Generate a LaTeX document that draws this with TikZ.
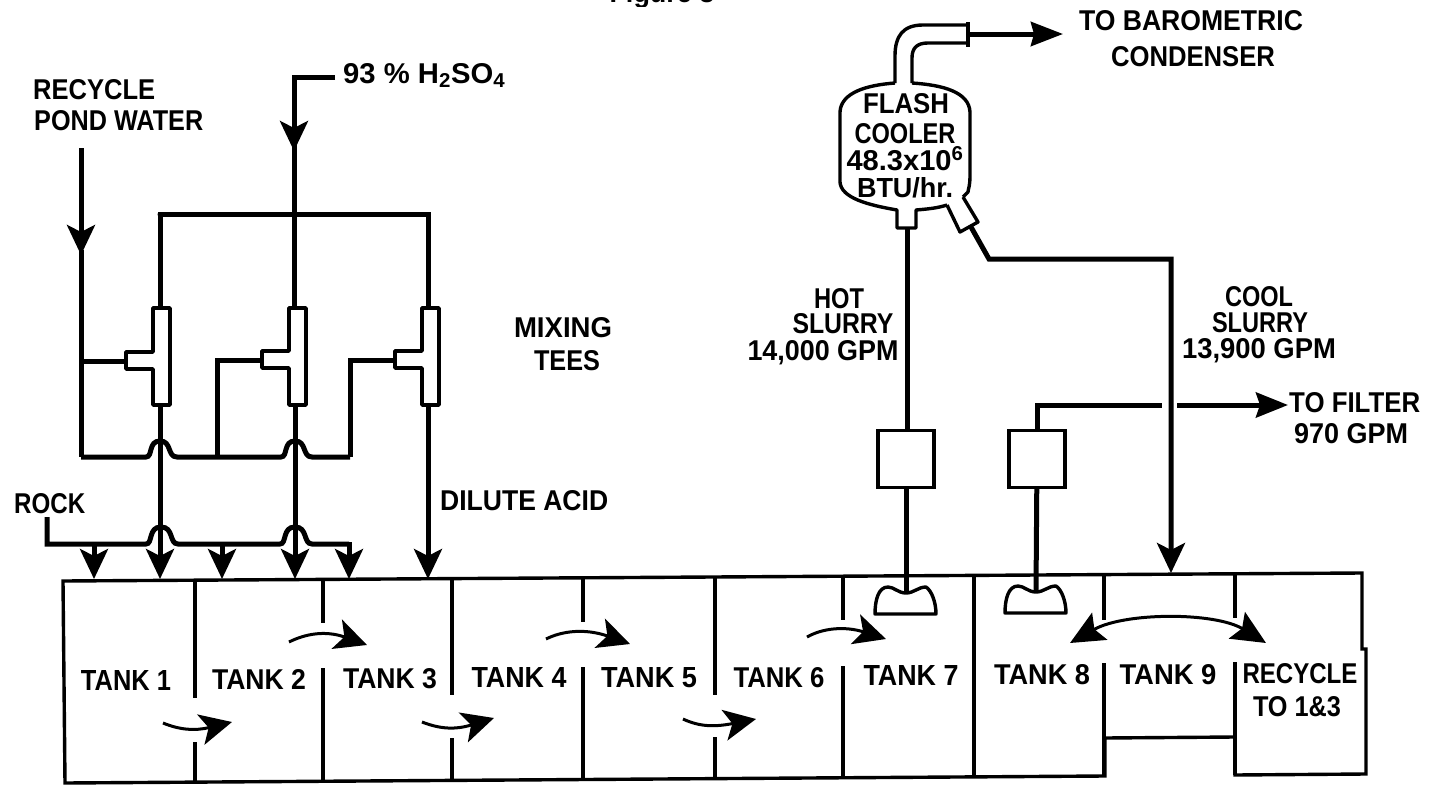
\documentclass[tikz,border=0pt]{standalone}
\usepackage{graphicx}
\usepackage{fontspec}
\setmainfont{Liberation Sans}
\usetikzlibrary{arrows.meta}
\newcommand{\fitw}[2]{\resizebox{#1pt}{20pt}{#2}}
\tikzset{
  pipe/.style={line width=5pt,line join=miter},
  wall/.style={line width=3.4pt},
  ves/.style={line width=3.4pt,line join=round},
  bighead/.style={-{Stealth[length=30pt,width=28pt,inset=7pt]}},
  flow/.style={line width=3pt,-{Stealth[length=32pt,width=31pt,inset=8pt]}},
  lab/.style={font=\fontsize{26}{26}\selectfont\bfseries,inner sep=0pt,anchor=base,yshift=-10pt},
  eqbox/.style={draw,line width=3.4pt,fill=white,minimum width=56pt,minimum height=57pt,inner sep=0pt}
}
\begin{document}
\begin{tikzpicture}[x=1pt,y=-1pt]
\useasboundingbox (0,0) rectangle (1436,787);
\fill[white] (0,0) rectangle (1436,787);
% clipped title
\begin{scope}
\clip (0,0) rectangle (1436,6);
\node[lab] (fig) at (662,-8) {\fitw{105}{Figure 3}};
\end{scope}
% labels
\node[lab,anchor=base west] (recy) at (33,89) {\fitw{122}{RECYCLE}};
\node[lab,anchor=base west] (pond) at (34,120) {\fitw{169}{POND WATER}};
\node[lab,anchor=base west] (acid) at (343,73) {\fitw{162}{93 \% H\textsubscript{2}SO\textsubscript{4}}};
\node[lab] (mix) at (563,327) {\fitw{98}{MIXING}};
\node[lab] (tees) at (567,360) {\fitw{66}{TEES}};
\node[lab,anchor=base west] (dil) at (440,500) {\fitw{168}{DILUTE ACID}};
\node[lab,anchor=base west] (rock) at (14,503) {\fitw{71}{ROCK}};
\node[lab] (baro) at (1191,20) {\fitw{224}{TO BAROMETRIC}};
\node[lab] (cond) at (1193,56) {\fitw{164}{CONDENSER}};
\node[lab] (hot) at (839,298) {\fitw{50}{HOT}};
\node[lab] (hs) at (843,323) {\fitw{101}{SLURRY}};
\node[lab] (hg) at (823,350) {\fitw{151}{14,000 GPM}};
\node[lab] (cool) at (1259,296) {\fitw{68}{COOL}};
\node[lab] (cs) at (1260,322) {\fitw{96}{SLURRY}};
\node[lab] (cg) at (1259,348) {\fitw{154}{13,900 GPM}};
\node[lab,anchor=base west] (filt) at (1289,402) {\fitw{131}{TO FILTER}};
\node[lab,anchor=base west] (fg) at (1294,433) {\fitw{114}{970 GPM}};
\node[lab] (fl1) at (906,103) {\fitw{86}{FLASH}};
\node[lab] (fl2) at (905,133) {\fitw{101}{COOLER}};
\node[lab] (fl3) at (905,160) {\resizebox{117pt}{24pt}{48.3x10\textsuperscript{6}}};
\node[lab] (fl4) at (905,187) {\fitw{96}{BTU/hr.}};
\foreach \n/\t/\x/\y/\w in {t1/TANK 1/126/680/90,t2/TANK 2/259/679/94,t3/TANK 3/390/678/94,t4/TANK 4/519/677/95,t5/TANK 5/649/677/96,t6/TANK 6/779/677/91,t7/TANK 7/911/675/95,t8/TANK 8/1042/674/96,t9/TANK 9/1168/674/97,t10/RECYCLE/1300/673/115,t11/TO 1\&3/1297/706/88}
  \node[lab] (\n) at (\x,\y) {\fitw{\w}{\t}};
% coordinates
\coordinate (tl) at (63,581);
\coordinate (tr) at (1362,573);
\coordinate (rs) at (1362,649);
\coordinate (rt) at (1366,649);
\coordinate (br) at (1366,774);
\coordinate (b9r) at (1235,775);
\coordinate (n9r) at (1235,737);
\coordinate (n9l) at (1105,738);
\coordinate (b8r) at (1105,776);
\coordinate (bl) at (65,783);
% tank outline
\draw[wall] (tl) -- (tr) -- (rs) -- (rt) -- (br) -- (b9r) -- (n9r) -- (n9l) -- (b8r) -- (bl) -- cycle;
% baffles
\foreach \x/\a/\b/\c/\d in {195/581/698/742/782,323/580/623/668/781,452/580/695/738/780,583/579/622/667/779,715/578/695/737/778,843/577/620/666/777,1104/575/620/663/776,1235/574/618/662/775}{
  \draw[wall] (\x,\a) -- (\x,\b);
  \draw[wall] (\x,\c) -- (\x,\d);
}
\draw[wall] (974,576) -- (974,777);
% flow arrows in tanks
\draw[flow] (289,642) .. controls (305,634) and (325,630) .. (367,645);
\draw[flow] (546,639) .. controls (562,631) and (585,628) .. (630,644);
\draw[flow] (807,637) .. controls (823,628) and (845,626) .. (886,639);
\draw[flow] (163,723) .. controls (180,730) and (195,731) .. (232,722);
\draw[flow] (422,722) .. controls (440,729) and (455,730) .. (494,718);
\draw[flow] (683,719) .. controls (700,727) and (715,727) .. (756,719);
\draw[line width=3pt,{Stealth[length=34pt,width=31pt,inset=6pt]}-{Stealth[length=34pt,width=31pt,inset=6pt]}] (1070,643) .. controls (1125,612) and (1215,612) .. (1266,643);
% mixing tees
\coordinate (h1) at (160,214);
\coordinate (h2) at (294,214);
\coordinate (h3) at (428,214);
\draw[pipe,line cap=round] (h1) -- (h3);
\draw[pipe] (160,212) -- (160,308);
\draw[pipe] (428,212) -- (428,308);
\coordinate (acidc) at (335,77);
\coordinate (acidk) at (294,77);
\draw[pipe,bighead] (acidc) -- (acidk) -- (294,151);
\draw[pipe] (294,145) -- (294,308);
% recycle pond water
\coordinate (rw) at (81,148);
\draw[pipe,bighead] (rw) -- (81,255);
\draw[pipe] (81,250) -- (81,457);
% collector with humps
\draw[pipe] (81,457) -- (146,457) .. controls (153,457) and (148,441) .. (160,441) .. controls (172,441) and (167,457) .. (177,457) -- (281,457) .. controls (288,457) and (283,441) .. (295,441) .. controls (307,441) and (302,457) .. (312,457) -- (350,457);
\draw[pipe] (81,361) -- (128,361);
\draw[pipe] (217,457) -- (217,360) -- (265,360);
\draw[pipe] (350,457) -- (350,360) -- (397,360);
% tee bodies
\foreach \nm/\x/\y in {a/161/361,b/297/360,c/430/360}{
  \draw[ves,fill=white] (\x-8,308) -- (\x+9,308) -- (\x+9,405) -- (\x-8,405) -- (\x-8,\y+8) -- (\x-35,\y+8) -- (\x-35,\y-9) -- (\x-8,\y-9) -- cycle;
}
% acid to tanks
\draw[pipe,bighead] (160,405) -- (160,579);
\draw[pipe,bighead] (295,405) -- (295,579);
\draw[pipe,bighead] (428,405) -- (428,579);
% rock
\coordinate (rk) at (47,517);
\draw[pipe] (rk) -- (47,544) -- (146,544) .. controls (153,544) and (148,527) .. (161,527) .. controls (174,527) and (169,544) .. (178,544) -- (280,544) .. controls (287,544) and (282,527) .. (295,527) .. controls (308,527) and (303,544) .. (312,544) -- (349,544);
\draw[pipe,bighead] (94,544) -- (94,579);
\draw[pipe,bighead] (222,544) -- (222,579);
\draw[pipe,bighead] (349,542) -- (349,579);
% equipment
\node[eqbox] (box1) at (906,459) {};
\node[eqbox] (box2) at (1037,459) {};
\coordinate (imp1) at (906,593);
\coordinate (imp2) at (1036,592);
\draw[pipe] (box1) -- (imp1);
\draw[pipe] (box2) -- (imp2);
\foreach \c in {imp1,imp2}{
  \begin{scope}[shift={(\c)}]
  \draw[ves] (-31,21) .. controls (-31,8) and (-28,-6) .. (-18,-6) .. controls (-12,-6) and (-8,0) .. (0,0) .. controls (8,0) and (12,-6) .. (20,-6) .. controls (26,-2) and (30,10) .. (30,21) -- cycle;
  \end{scope}
}
% flash cooler
\draw[ves] (895,83) -- (895,56) .. controls (895,36) and (903,25) .. (923,25) -- (968,25);
\draw[ves] (912,83) -- (912,58) .. controls (912,48) and (917,43) .. (928,43) -- (968,43);
\draw[ves,line width=4.5pt] (968,22) -- (968,47);
\draw[ves] (895,83) .. controls (868,85) and (841,92) .. (840,112) -- (840,182) .. controls (841,198) and (868,205) .. (897,210) -- (897,228) -- (916,228) -- (916,210) .. controls (928,209) and (938,208) .. (947,205);
\draw[ves] (912,83) .. controls (943,85) and (969,92) .. (970,112) -- (970,176) .. controls (970,186) and (968,190) .. (968,192) -- (963,197);
\draw[ves] (947,205) -- (960,232) -- (978,222) -- (963,197);
\coordinate (hotout) at (907,228);
\draw[pipe] (hotout) -- (box1.north -| hotout);
\coordinate (coolout) at (971,227);
\coordinate (coolk) at (989,259);
\coordinate (coolc) at (1171,259);
\draw[pipe,bighead] (coolout) -- (coolk) -- (coolc) -- (1171,573);
\coordinate (vent) at (968,34);
\draw[pipe,-{Stealth[length=32pt,width=24pt,inset=3pt]}] (vent) -- (1063,34);
% filter line
\coordinate (fk) at (1037,405);
\draw[pipe] (box2) -- (fk) -- (1162,405);
\coordinate (fs) at (1177,405);
\draw[pipe,-{Stealth[length=32pt,width=25pt,inset=4pt]}] (fs) -- (1288,405);
\end{tikzpicture}
\end{document}
